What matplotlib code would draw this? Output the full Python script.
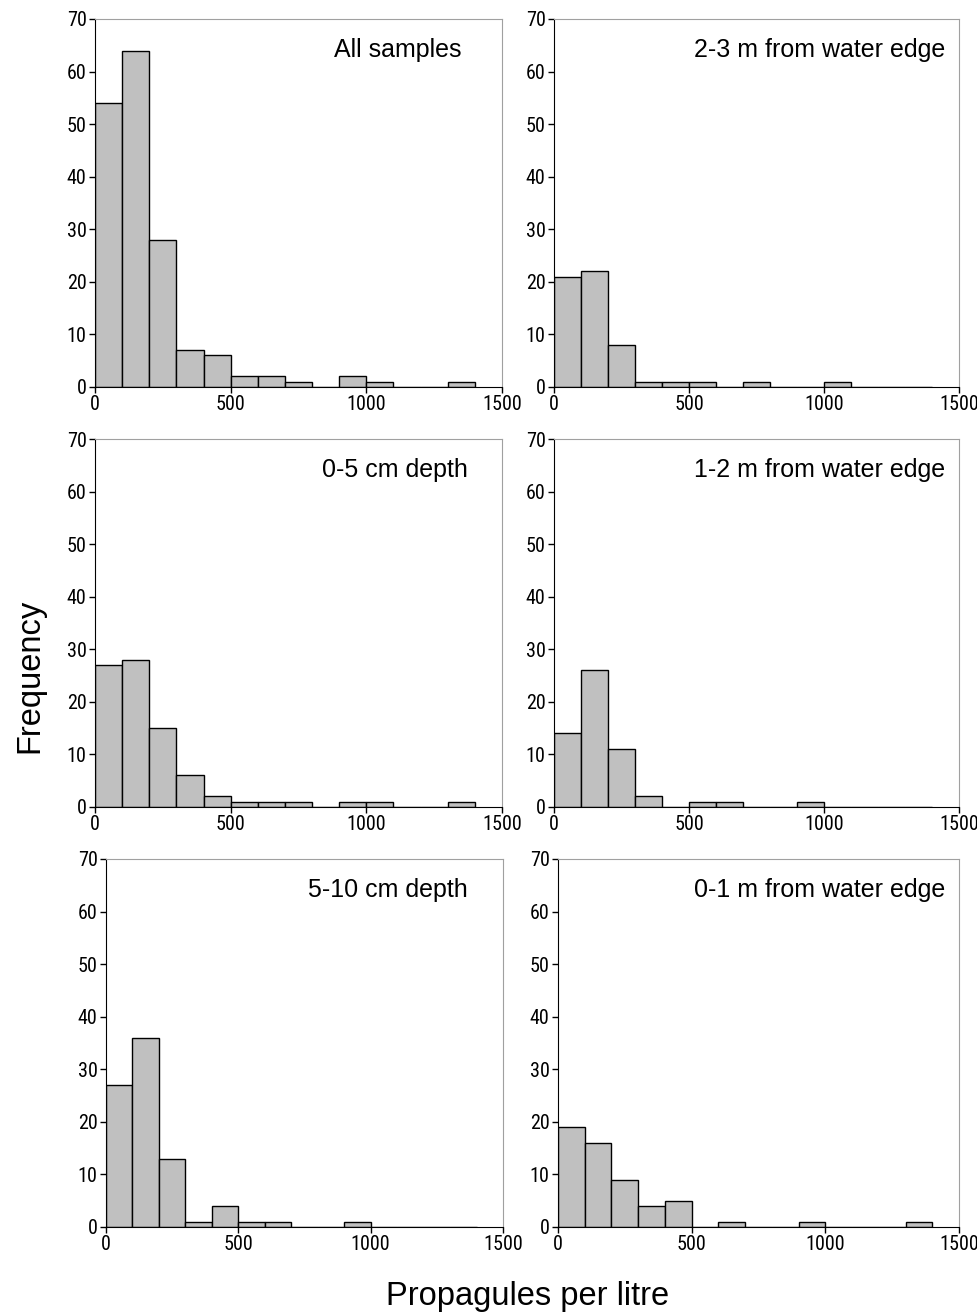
import matplotlib
matplotlib.use('Agg')
import matplotlib.pyplot as plt
from matplotlib import font_manager
import numpy as np

# bin edges 0..1400 in steps of 100
bin_edges = [0, 100, 200, 300, 400, 500, 600, 700, 800, 900, 1000, 1100, 1200, 1300, 1400]

all_samples = [54, 64, 28, 7, 6, 2, 2, 1, 0, 2, 1, 0, 0, 1]
edge_2_3m = [21, 22, 8, 1, 1, 1, 0, 1, 0, 0, 1, 0, 0, 0]
depth_0_5cm = [27, 28, 15, 6, 2, 1, 1, 1, 0, 1, 1, 0, 0, 1]
edge_1_2m = [14, 26, 11, 2, 0, 1, 1, 0, 0, 1, 0, 0, 0, 0]
depth_5_10cm = [27, 36, 13, 1, 4, 1, 1, 0, 0, 1, 0, 0, 0, 0]
edge_0_1m = [19, 16, 9, 4, 5, 0, 1, 0, 0, 1, 0, 0, 0, 1]

panel_labels = ['All samples', '2-3 m from water edge',
                '0-5 cm depth', '1-2 m from water edge',
                '5-10 cm depth', '0-1 m from water edge']
panel_counts = [all_samples, edge_2_3m, depth_0_5cm, edge_1_2m, depth_5_10cm, edge_0_1m]

x_ticks = [0, 500, 1000, 1500]
y_ticks = [0, 10, 20, 30, 40, 50, 60, 70]


def pick_font(cands):
    for c in cands:
        try:
            font_manager.findfont(c, fallback_to_default=False)
            return c
        except Exception:
            continue
    return 'DejaVu Sans'


tick_font = pick_font(['Liberation Sans Narrow', 'DejaVu Sans Condensed', 'Roboto Condensed', 'DejaVu Sans'])
label_font = 'Liberation Sans'

W, H = 978, 1316
fig = plt.figure(figsize=(W / 100, H / 100), dpi=100)

# axes boxes in pixels: left, right, top, bottom
boxes = [
    (95, 502, 19, 387), (554, 959, 19, 387),
    (95, 502, 439, 807), (554, 959, 439, 807),
    (106, 503, 859, 1227), (558, 959, 859, 1227),
]
label_right = [462, 945, 468, 945, 468, 945]

for i, (counts, label) in enumerate(zip(panel_counts, panel_labels)):
    l, r, t, b = boxes[i]
    ax = fig.add_axes([l / W, 1 - b / H, (r - l) / W, (b - t) / H])
    lefts = np.array(bin_edges[:-1])
    widths = np.diff(bin_edges)
    ax.bar(lefts, counts, width=widths, align='edge', color='#c0c0c0',
           edgecolor='black', linewidth=1.0)
    ax.set_xlim(0, 1500)
    ax.set_ylim(0, 70)
    ax.set_xticks(x_ticks)
    ax.set_yticks(y_ticks)
    for s in ['top', 'right']:
        ax.spines[s].set_color('#a0a0a0')
    for s in ['left', 'bottom']:
        ax.spines[s].set_color('black')
    ax.tick_params(direction='out', length=4, width=1, labelsize=14.5, pad=2)
    for lab in ax.get_xticklabels() + ax.get_yticklabels():
        lab.set_fontfamily(tick_font)
    ax.text((label_right[i] - l) / (r - l), 1 - 31 / (b - t), label,
            transform=ax.transAxes, ha='right', va='center',
            fontsize=18, family=label_font)

fig.text(30 / W, 1 - 676 / H, 'Frequency', rotation=90, ha='center', va='center',
         fontsize=23.5, family=label_font)
fig.text(528 / W, 1 - 1296 / H, 'Propagules per litre', ha='center', va='center',
         fontsize=23.5, family=label_font)

fig.savefig('out.png', dpi=100)
